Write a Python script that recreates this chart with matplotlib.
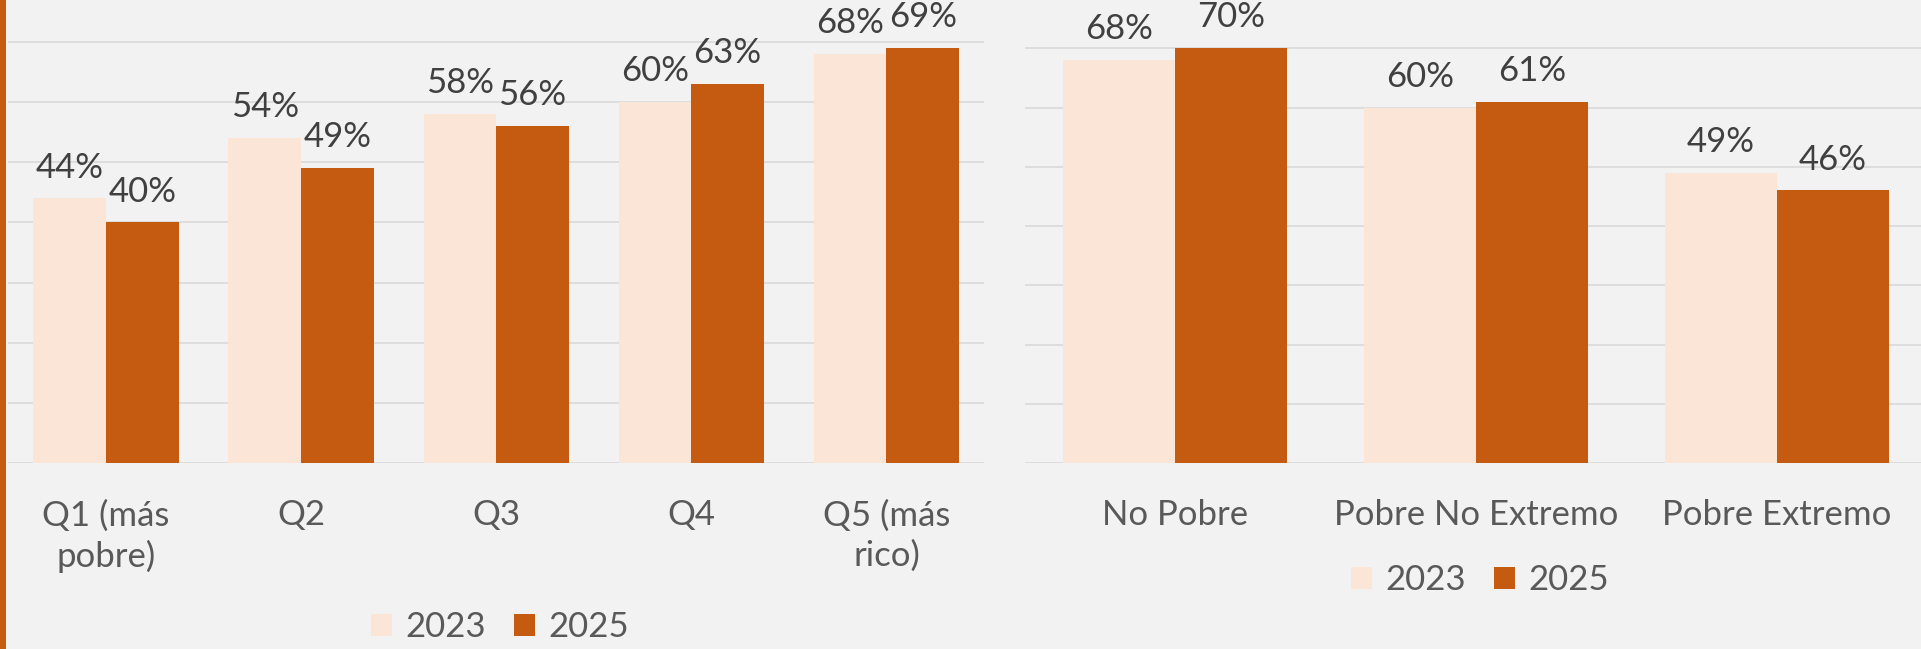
import matplotlib
matplotlib.use('Agg')
import numpy as np
from matplotlib import pyplot as plt
from matplotlib.patches import Rectangle

quintiles = ['Q1 (más\npobre)', 'Q2', 'Q3', 'Q4', 'Q5 (más\nrico)']
quintiles_2023 = [44, 54, 58, 60, 68]
quintiles_2025 = [40, 49, 56, 63, 69]

poverty = ['No Pobre', 'Pobre No Extremo', 'Pobre Extremo']
poverty_2023 = [68, 60, 49]
poverty_2025 = [70, 61, 46]

years = ['2023', '2025']

LIGHT = '#FBE5D6'
DARK = '#C55A11'
BG = '#F2F2F2'
GRID = '#D9D9D9'

plt.rcParams['font.family'] = ['Lato', 'DejaVu Sans']
FS = 25


def draw_panel(ax, labels, v2023, v2025, ymax):
    x = np.arange(len(labels))
    w = 0.372
    b1 = ax.bar(x - w / 2, v2023, w, color=LIGHT, label=years[0], zorder=2)
    b2 = ax.bar(x + w / 2, v2025, w, color=DARK, label=years[1], zorder=2)
    for bars, vals in ((b1, v2023), (b2, v2025)):
        for rect, v in zip(bars, vals):
            ax.annotate(f'{v}%', (rect.get_x() + rect.get_width() / 2, v),
                        xytext=(0, 15), textcoords='offset points',
                        ha='center', va='baseline', fontsize=FS, color='#404040')
    ax.set_xlim(-0.5, len(labels) - 0.5)
    ax.set_ylim(0, ymax)
    ax.set_yticks(range(0, 80, 10))
    ax.set_yticklabels([])
    ax.set_xticks(x)
    ax.set_xticklabels(labels, fontsize=FS, color='#595959', linespacing=1.3)
    ax.tick_params(axis='both', length=0)
    ax.tick_params(axis='x', pad=26)
    ax.grid(axis='y', color=GRID, lw=1.2, zorder=0)
    ax.set_facecolor(BG)
    for s in ax.spines.values():
        s.set_visible(False)
    return ax


fig = plt.figure(figsize=(19.21, 6.49), dpi=100, facecolor=BG)

ax1 = fig.add_axes([8.4 / 1921, 1 - 463 / 649, 975.6 / 1921, 463 / 649])
draw_panel(ax1, quintiles, quintiles_2023, quintiles_2025, 463 / 6.014)

ax2 = fig.add_axes([1024.5 / 1921, 1 - 463 / 649, 903 / 1921, 463 / 649])
draw_panel(ax2, poverty, poverty_2023, poverty_2025, 463 / 5.924)

legend_kw = dict(loc='center', ncol=2, frameon=False, fontsize=FS, labelcolor='#595959',
                 handlelength=0.6, handleheight=0.6, handletextpad=0.4, columnspacing=0.8)
ax1.legend(bbox_to_anchor=(500 / 1921, 1 - 627 / 649), bbox_transform=fig.transFigure, **legend_kw)
ax2.legend(bbox_to_anchor=(1480 / 1921, 1 - 580 / 649), bbox_transform=fig.transFigure, **legend_kw)

# orange accent bar on the left edge
fig.add_artist(Rectangle((0, 0), 6 / 1921, 1, transform=fig.transFigure, color=DARK, lw=0))

plt.savefig('out.png', dpi=100, facecolor=BG)
